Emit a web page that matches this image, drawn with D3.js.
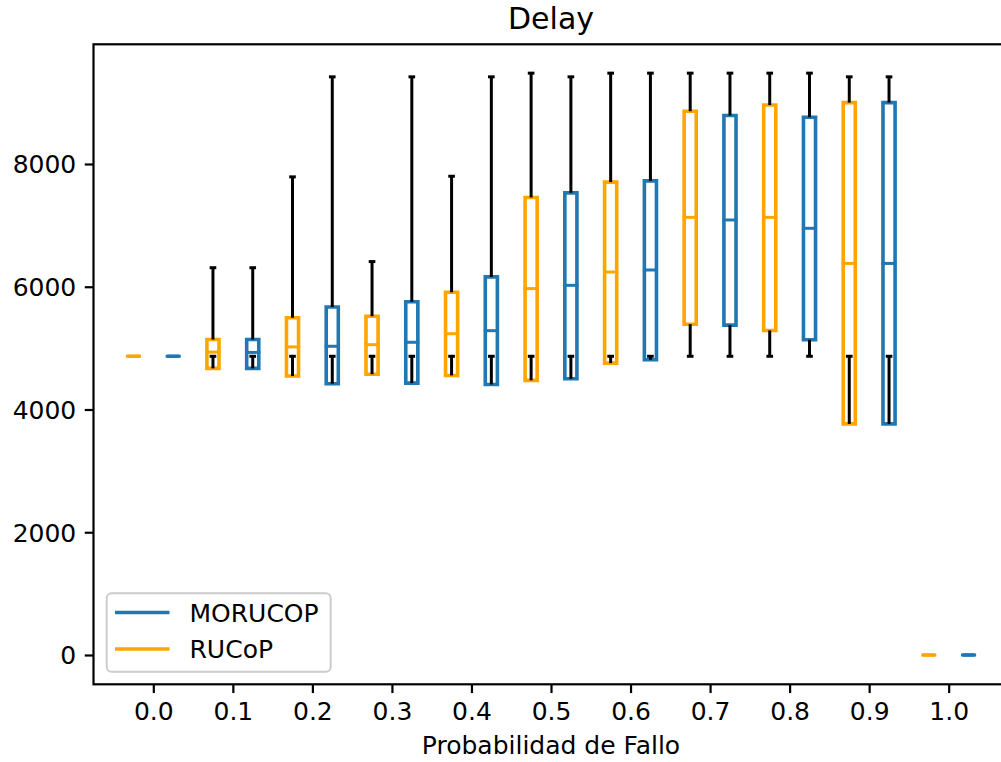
<!DOCTYPE html>
<html>
<head>
<meta charset="utf-8">
<script src="https://cdn.jsdelivr.net/npm/d3@7"></script>
<style>
  html, body { margin: 0; padding: 0; background: #ffffff; }
  svg { display: block; font-family: "DejaVu Sans", sans-serif; }
</style>
</head>
<body>
<svg id="chart" width="1001" height="762"></svg>
<script>
// Failure probabilities on the x axis
const probs = [0.0, 0.1, 0.2, 0.3, 0.4, 0.5, 0.6, 0.7, 0.8, 0.9, 1.0];
const xTicks = probs;
const yTicks = [0, 2000, 4000, 6000, 8000];

// RUCoP delay statistics per probability
const rucopLow  = [4867, 4867, 4867, 4867, 4867, 4867, 4867, 4867, 4867, 4867, 0];
const rucopQ1   = [4867, 4670, 4545, 4575, 4555, 4475, 4755, 5390, 5288, 3765, 0];
const rucopMed  = [4867, 4935, 5020, 5056, 5235, 5970, 6240, 7130, 7130, 6380, 0];
const rucopQ3   = [4867, 5140, 5495, 5520, 5910, 7455, 7705, 8860, 8960, 9000, 0];
const rucopHigh = [4867, 6310, 7790, 6410, 7800, 9480, 9480, 9480, 9480, 9420, 0];

// MORUCOP delay statistics per probability
const morucopLow  = [4867, 4867, 4867, 4867, 4867, 4867, 4867, 4867, 4867, 4867, 0];
const morucopQ1   = [4867, 4670, 4420, 4430, 4408, 4500, 4810, 5375, 5136, 3765, 0];
const morucopMed  = [4867, 4930, 5030, 5095, 5284, 6023, 6273, 7088, 6952, 6380, 0];
const morucopQ3   = [4867, 5140, 5670, 5755, 6160, 7530, 7725, 8790, 8762, 9000, 0];
const morucopHigh = [4867, 6310, 9420, 9420, 9420, 9420, 9480, 9480, 9480, 9420, 0];

const seriesNames = ["MORUCOP", "RUCoP"];
const seriesColors = { "MORUCOP": "#1f77b4", "RUCoP": "#ffa500" };
const seriesOffset = { "MORUCOP": 0.025, "RUCoP": -0.025 };

function buildSeries(name, low, q1, med, q3, high) {
  return probs.map((p, i) => ({
    name, p, low: low[i], q1: q1[i], med: med[i], q3: q3[i], high: high[i]
  }));
}
const boxes = [
  ...buildSeries("RUCoP", rucopLow, rucopQ1, rucopMed, rucopQ3, rucopHigh),
  ...buildSeries("MORUCOP", morucopLow, morucopQ1, morucopMed, morucopQ3, morucopHigh)
];

const svg = d3.select("#chart");
const plot = { left: 93.5, right: 1008.5, top: 44.3, bottom: 684.3 };

const x = d3.scaleLinear().domain([-0.0752, 1.0752]).range([plot.left, plot.right]);
const y = d3.scaleLinear().domain([-477.4, 9950]).range([plot.bottom, plot.top]);

const boxW = 0.0152;
const capW = boxW * 0.55;
const boxLw = 3.6;
const whiskLw = 3;

const g = svg.append("g");

// Boxes
g.selectAll("path.box").data(boxes).join("path")
  .attr("class", "box")
  .attr("d", d => {
    const cx = d.p + seriesOffset[d.name];
    const x0 = x(cx - boxW / 2), x1 = x(cx + boxW / 2);
    const y0 = y(d.q1), y1 = y(d.q3);
    return `M${x0},${y0}L${x1},${y0}L${x1},${y1}L${x0},${y1}Z`;
  })
  .attr("fill", "none")
  .attr("stroke", d => seriesColors[d.name])
  .attr("stroke-width", boxLw)
  .attr("stroke-linejoin", "miter");

// Medians
g.selectAll("line.median").data(boxes).join("line")
  .attr("class", "median")
  .attr("x1", d => x(d.p + seriesOffset[d.name] - boxW / 2))
  .attr("x2", d => x(d.p + seriesOffset[d.name] + boxW / 2))
  .attr("y1", d => y(d.med))
  .attr("y2", d => y(d.med))
  .attr("stroke", d => seriesColors[d.name])
  .attr("stroke-width", whiskLw)
  .attr("stroke-linecap", "square");

// Whiskers (skip degenerate ones)
const whiskers = [];
boxes.forEach(d => {
  if (d.low !== d.q1) whiskers.push({ d, from: d.q1, to: d.low });
  if (d.high !== d.q3) whiskers.push({ d, from: d.q3, to: d.high });
});
g.selectAll("line.whisker").data(whiskers).join("line")
  .attr("class", "whisker")
  .attr("x1", w => x(w.d.p + seriesOffset[w.d.name]))
  .attr("x2", w => x(w.d.p + seriesOffset[w.d.name]))
  .attr("y1", w => y(w.from))
  .attr("y2", w => y(w.to))
  .attr("stroke", "#000")
  .attr("stroke-width", whiskLw);

g.selectAll("line.cap").data(whiskers).join("line")
  .attr("class", "cap")
  .attr("x1", w => x(w.d.p + seriesOffset[w.d.name] - capW / 2))
  .attr("x2", w => x(w.d.p + seriesOffset[w.d.name] + capW / 2))
  .attr("y1", w => y(w.to))
  .attr("y2", w => y(w.to))
  .attr("stroke", "#000")
  .attr("stroke-width", whiskLw);

// Axes
const xAxis = d3.axisBottom(x).tickValues(xTicks).tickFormat(d3.format(".1f"))
  .tickSizeInner(8.75).tickSizeOuter(0).tickPadding(8.5);
const yAxis = d3.axisLeft(y).tickValues(yTicks).tickFormat(d3.format("d"))
  .tickSizeInner(8.75).tickSizeOuter(0).tickPadding(8.5);

const gx = svg.append("g").attr("transform", `translate(0,${plot.bottom})`).call(xAxis);
const gy = svg.append("g").attr("transform", `translate(${plot.left},0)`).call(yAxis);
[gx, gy].forEach(a => {
  a.select(".domain").remove();
  a.selectAll(".tick line").attr("stroke", "#000").attr("stroke-width", 2.2);
  a.selectAll(".tick text").attr("fill", "#000")
    .style("font-family", "'DejaVu Sans', sans-serif").style("font-size", "25px");
});
gy.selectAll(".tick text").attr("dy", "0.36em");
gx.selectAll(".tick text").attr("dy", "0.73em");

// Spines
svg.append("rect")
  .attr("x", plot.left).attr("y", plot.top)
  .attr("width", plot.right - plot.left).attr("height", plot.bottom - plot.top)
  .attr("fill", "none").attr("stroke", "#000").attr("stroke-width", 2.2);

// Title and axis label
svg.append("text")
  .attr("x", (plot.left + plot.right) / 2).attr("y", 29)
  .attr("text-anchor", "middle").style("font-size", "30px").attr("fill", "#000")
  .text("Delay");
svg.append("text")
  .attr("x", (plot.left + plot.right) / 2).attr("y", 754)
  .attr("text-anchor", "middle").style("font-size", "25px").attr("fill", "#000")
  .text("Probabilidad de Fallo");

// Legend
const legend = svg.append("g");
legend.append("rect")
  .attr("x", 106.7).attr("y", 593.3).attr("width", 224).attr("height", 78.4)
  .attr("rx", 5).attr("ry", 5)
  .attr("fill", "#ffffff").attr("fill-opacity", 0.8)
  .attr("stroke", "#cccccc").attr("stroke-width", 2);
const legendY = [612.5, 649];
seriesNames.forEach((name, i) => {
  legend.append("line")
    .attr("x1", 115).attr("x2", 169.5)
    .attr("y1", legendY[i]).attr("y2", legendY[i])
    .attr("stroke", seriesColors[name]).attr("stroke-width", 3.6);
  legend.append("text")
    .attr("x", 189.5).attr("y", legendY[i]).attr("dy", "0.36em")
    .style("font-size", "25px").attr("fill", "#000")
    .text(name);
});
</script>
</body>
</html>
